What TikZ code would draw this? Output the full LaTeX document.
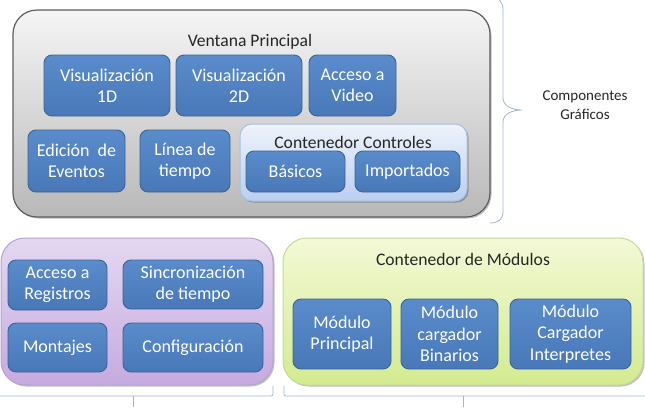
\documentclass[tikz,border=0pt]{standalone}
\usepackage{fontspec}
\setmainfont{Carlito}
\usetikzlibrary{shadows}
\definecolor{bluetop}{HTML}{5A8BCA}
\definecolor{bluebot}{HTML}{4878B7}
\definecolor{blueline}{HTML}{3A6498}
\definecolor{graytop}{HTML}{F5F5F5}
\definecolor{graybot}{HTML}{B8B8B8}
\definecolor{grayline}{HTML}{5E5E5E}
\definecolor{ctop}{HTML}{EEF3FB}
\definecolor{cbot}{HTML}{BACFEF}
\definecolor{cline}{HTML}{A7BFE3}
\definecolor{ptop}{HTML}{E4D8F1}
\definecolor{pbot}{HTML}{C6AAE0}
\definecolor{pline}{HTML}{B7A3CE}
\definecolor{gtop}{HTML}{F3F9D6}
\definecolor{gbot}{HTML}{D3EB90}
\definecolor{gline}{HTML}{C6DA98}
\definecolor{brc}{HTML}{A3B5C8}
\definecolor{txt}{HTML}{262626}
\tikzset{
  bluebox/.style={rounded corners=8pt, draw=blueline, line width=0.9pt,
    top color=bluetop, bottom color=bluebot, text=white, align=center,
    inner sep=0pt, font=\fontsize{18}{21.5}\selectfont},
  container/.style={rounded corners=24pt, line width=1pt},
  ctitle/.style={text=txt, font=\fontsize{17.6}{21}\selectfont, inner sep=0pt},
  bracestyle/.style={draw=brc, line width=0.8pt},
  softshadow/.style={drop shadow={shadow xshift=1.5pt, shadow yshift=-1.5pt, opacity=0.25, fill=black}}
}
\begin{document}
\begin{tikzpicture}[x=1pt,y=-1pt]
\useasboundingbox (0,0) rectangle (645,413);
% main window
\path[container, draw=grayline, top color=graytop, bottom color=graybot, line width=1.2pt, softshadow] (13,10) rectangle (490,217);
\node[ctitle] (vp) at (250,42) {Ventana Principal};
\node[bluebox, minimum width=126pt, minimum height=61pt] (v1) at (107,85.5) {Visualización\\1D};
\node[bluebox, minimum width=126pt, minimum height=61pt] (v2) at (239,85.5) {Visualización\\2D};
\node[bluebox, minimum width=87pt, minimum height=61pt] (av) at (352.5,85.5) {Acceso a\\Video};
\node[bluebox, minimum width=97pt, minimum height=62pt] (ed) at (76.5,161) {Edición\ \ de\\Eventos};
\node[bluebox, minimum width=90pt, minimum height=62pt] (lt) at (185,161) {Línea de\\tiempo};
\path[rounded corners=12pt, draw=cline, line width=1pt, top color=ctop, bottom color=cbot, softshadow] (240,124) rectangle (467,201);
\node[ctitle] (cc) at (353,142) {Contenedor Controles};
\node[bluebox, minimum width=99pt, minimum height=41pt] (ba) at (295.5,171.5) {Básicos};
\node[bluebox, minimum width=105pt, minimum height=41pt] (im) at (407.5,171.5) {Importados};
% right brace
\draw[bracestyle] (491,-3) .. controls (499,-3) and (503,2) .. (503,10) -- (503,98)
  .. controls (503,106) and (512,110) .. (522,110)
  .. controls (512,110) and (503,114) .. (503,122) -- (503,211)
  .. controls (503,219) and (499,223) .. (490,223);
\node[text=txt, align=center, font=\fontsize{15}{18.5}\selectfont, inner sep=0pt] (cg) at (585,105) {Componentes\\Gráficos};
% purple container
\path[container, draw=pline, top color=ptop, bottom color=pbot, softshadow] (1,238) rectangle (273,385);
\node[bluebox, minimum width=99pt, minimum height=50pt] (ar) at (57.5,285) {Acceso a\\Registros};
\node[bluebox, minimum width=140pt, minimum height=49pt] (st) at (193,284.5) {Sincronización\\de tiempo};
\node[bluebox, minimum width=99pt, minimum height=49pt] (mo) at (57.5,347.5) {Montajes};
\node[bluebox, minimum width=140pt, minimum height=49pt] (co) at (193,347.5) {Configuración};
% green container
\path[container, draw=gline, top color=gtop, bottom color=gbot, softshadow] (283,238) rectangle (643,385);
\node[ctitle] (cm) at (463,259) {Contenedor de Módulos};
\node[bluebox, minimum width=98pt, minimum height=70pt] (mp) at (342,334) {Módulo\\Principal};
\node[bluebox, minimum width=97pt, minimum height=70pt] (mb) at (449.5,334) {Módulo\\cargador\\Binarios};
\node[bluebox, minimum width=121pt, minimum height=70pt] (mi) at (570.5,334) {Módulo\\Cargador\\Interpretes};
% bottom brackets
\draw[bracestyle, rounded corners=2pt] (-2,396) -- (273,396) -- (273,386);
\draw[bracestyle] (133,396) -- (133,407);
\draw[bracestyle, rounded corners=2pt] (284,386) -- (284,396) -- (647,396);
\draw[bracestyle] (463,396) -- (463,407);
\end{tikzpicture}
\end{document}
